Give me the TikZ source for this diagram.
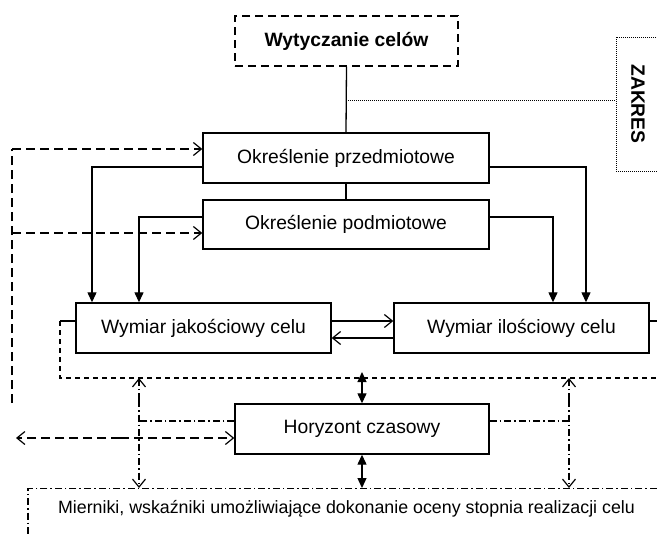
\documentclass[tikz,border=0pt]{standalone}
\usepackage{fontspec}
\setmainfont{Liberation Sans}
\usetikzlibrary{arrows.meta}
\begin{document}
\begin{tikzpicture}[x=1pt,y=-1pt,
  font=\fontsize{19.3}{23}\selectfont,
  line width=1.3pt,
  box/.style={draw, line width=1.4pt, minimum height=50pt, inner sep=0pt},
  goalbox/.style={box, dash pattern=on 8pt off 5pt, font=\fontsize{19.3}{23}\selectfont\bfseries},
  rangebox/.style={draw, line width=0.9pt, dash pattern=on 1pt off 1pt, inner sep=0pt,
    font=\fontsize{19.3}{23}\selectfont\bfseries},
  measbox/.style={draw, line width=1.2pt, dash pattern=on 7pt off 3pt on 1.5pt off 3pt, inner sep=0pt,
    font=\fontsize{17.8}{21}\selectfont},
  flow/.style={line width=1.3pt, -{Triangle[length=10pt,width=9pt]}},
  both/.style={line width=1.3pt, {Triangle[length=10pt,width=9pt]}-{Triangle[length=10pt,width=9pt]}},
  open/.style={-{Straight Barb[length=8pt,width=13pt,line width=1.2pt]}},
  longdash/.style={line width=1.3pt, dash pattern=on 9pt off 5pt},
  shortdash/.style={line width=1.2pt, dash pattern=on 5pt off 4pt},
  dashdot/.style={line width=1.2pt, dash pattern=on 7pt off 3pt on 1.5pt off 3pt},
  dotline/.style={line width=0.9pt, dash pattern=on 1pt off 1pt}
]
\useasboundingbox (0,0) rectangle (657,536);
\clip (0,0) rectangle (657,536);

% boxes
\node[goalbox, minimum width=223pt] (goal) at (346.5,41) {Wytyczanie celów};
\node[rangebox, rotate=-90, minimum width=134pt, minimum height=44pt] (zakres) at (638,104) {ZAKRES};
\node[box, minimum width=286pt] (przed) at (346,158) {Określenie przedmiotowe};
\node[box, minimum width=286pt, minimum height=49pt] (podm) at (346,224.5) {Określenie podmiotowe};
\node[box, minimum width=255pt] (jak) at (203.5,328) {Wymiar jakościowy celu};
\node[box, minimum width=255pt] (ilo) at (521.5,328) {Wymiar ilościowy celu};
\node[box, minimum width=254pt] (hor) at (362,429) {Horyzont czasowy};
\node[measbox, anchor=north, text height=25pt, text depth=40pt, minimum width=637pt] (mier) at (346.5,488)
  {Mierniki, wskaźniki umożliwiające dokonanie oceny stopnia realizacji celu};

% helper points
\coordinate (zk) at (346,100);
\coordinate (fr) at (0,378);

% main vertical chain
\draw (goal.south) -- (przed.north);
\draw (przed.south) -- (podm.north);
\draw[dotline] (zk) -- (zk -| zakres.south);

% subject and object definitions feed both dimensions
\draw[flow] (przed.west |- 0,167) -| (92,0 |- jak.north);
\draw[flow] (podm.west |- 0,217) -| (139,0 |- jak.north);
\draw[flow] (przed.east |- 0,167) -| (586,0 |- ilo.north);
\draw[flow] (podm.east |- 0,217) -| (553,0 |- ilo.north);

% exchange between dimensions
\draw[open] (jak.east |- 0,321) -- (ilo.west |- 0,321);
\draw[open] (ilo.west |- 0,338) -- (jak.east |- 0,338);

% frame around both dimensions
\draw (jak.west |- 0,321) -- (60,321);
\draw[shortdash] (60,321) -- (60,378) -- (670,378);
\draw (ilo.east |- 0,321) -- (670,321);

% time horizon links
\draw[both] (362,372) -- (hor.north);
\draw[both] (hor.south) -- (362,0 |- mier.north);

\draw[dashdot] (hor.west |- 0,421) -- (139,421);
\draw[dashdot, open] (139,400) -- (139,0 |- fr);
\draw[dashdot, open] (139,400) -- (139,0 |- mier.north);
\draw[dashdot] (hor.east |- 0,421) -- (569,421);
\draw[dashdot, open] (569,400) -- (569,0 |- fr);
\draw[dashdot, open] (569,400) -- (569,0 |- mier.north);

% outer feedback lines
\draw[longdash] (12,403) -- (12,149);
\draw[longdash, open] (12,149) -- (przed.west |- 0,149);
\draw[longdash, open] (12,233) -- (podm.west |- 0,233);
\draw[longdash, open] (120,438) -- (16,438);
\draw[longdash, open] (120,438) -- (hor.west |- 0,438);
\end{tikzpicture}
\end{document}
